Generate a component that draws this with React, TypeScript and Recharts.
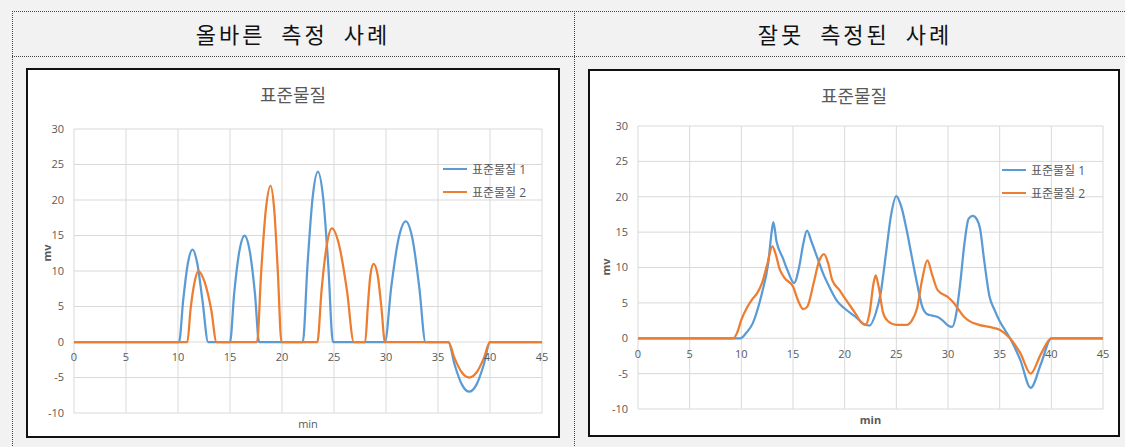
import React from 'react';
import { LineChart, Line, XAxis, YAxis, CartesianGrid, Legend } from 'recharts';

const X_TICKS = [0, 5, 10, 15, 20, 25, 30, 35, 40, 45];
const Y_TICKS = [-10, -5, 0, 5, 10, 15, 20, 25, 30];
const SERIES_NAMES = ['표준물질 1', '표준물질 2'];
const SERIES_COLORS = ['#5B9BD5', '#ED7D31'];
const HEADERS = ['올바른 측정 사례', '잘못 측정된 사례'];
const CHART_TITLE = '표준물질';
const X_TITLE = 'min';
const Y_TITLE = 'mv';

const good1: [number, number][] = [
  [0, 0], [10.1, 0], [10.5, 5.9], [10.95, 11.1], [11.4, 13], [11.85, 11.1], [12.35, 5.9], [12.9, 0],
  [15.0, 0], [15.4, 6.8], [15.9, 12.8], [16.4, 15], [16.9, 12.8], [17.4, 6.8], [17.8, 0],
  [22.0, 0], [22.45, 10.8], [22.95, 20.4], [23.45, 24], [23.95, 20.4], [24.45, 10.8], [24.9, 0],
  [29.9, 0], [30.5, 7.7], [31.2, 14.5], [31.9, 17], [32.55, 14.5], [33.2, 7.7], [33.8, 0],
  [36, 0], [36.6, -3.2], [37.3, -6], [38, -7], [38.7, -6], [39.4, -3.2], [40, 0], [45, 0],
];
const good2: [number, number][] = [
  [0, 0], [10.9, 0], [11.2, 4.5], [11.6, 8.5], [11.95, 10], [12.55, 8.5], [13.2, 4.5], [13.7, 0],
  [17.6, 0], [18.0, 9.9], [18.45, 18.7], [18.9, 22], [19.25, 18.7], [19.6, 9.9], [19.95, 0],
  [23.4, 0], [23.8, 7.2], [24.3, 13.6], [24.8, 16], [25.5, 13.6], [26.25, 7.2], [26.9, 0],
  [28.0, 0], [28.25, 5.0], [28.5, 9.4], [28.8, 11], [29.2, 9.4], [29.55, 5.0], [29.9, 0],
  [36, 0], [36.6, -2.3], [37.3, -4.3], [38, -5], [38.7, -4.3], [39.4, -2.3], [40, 0], [45, 0],
];

const bad1: [number, number][] = [
  [0, 0], [9.9, 0], [10.5, 0.8], [11.1, 2.1], [11.6, 4.2], [12, 6.4], [12.6, 10.6], [12.95, 15.2], [13.1, 16.4],
  [13.4, 13.7], [14, 11.4], [14.5, 9.5], [15.1, 7.8], [15.6, 10.1], [16.0, 13.4], [16.35, 15.2], [16.8, 13.6],
  [17.3, 11.6], [17.9, 9.2], [18.5, 7.3], [19.2, 5.4], [20, 4.2], [21, 3.1], [22, 1.9], [22.4, 1.8],
  [23, 3.5], [23.5, 6.5], [24, 12], [24.5, 17.5], [25, 20.1], [25.5, 18.5], [26, 15.3], [26.5, 11.5],
  [27, 7.8], [27.5, 4.5], [28, 3.4], [28.5, 3.2], [29, 3.0], [29.5, 2.5], [30, 1.8], [30.4, 1.6],
  [30.8, 3.5], [31.2, 8], [31.6, 13.5], [32, 16.9], [32.4, 17.3], [32.8, 16.8], [33.1, 15.5], [33.5, 11],
  [34, 6], [34.5, 4], [35, 2.4], [35.5, 1.2], [36, 0], [37, -3.1], [38, -7], [39, -3.6], [40, 0], [45, 0],
];
const bad2: [number, number][] = [
  [0, 0], [9.2, 0], [9.6, 0.8], [10, 2.6], [10.5, 4.2], [11, 5.4], [11.5, 6.3], [12, 7.8], [12.5, 10.4],
  [13, 13], [13.3, 12], [13.7, 9.8], [14.2, 8.5], [15, 7.3], [15.5, 5.3], [16, 4.1], [16.4, 4.5],
  [17, 7.8], [17.5, 10.8], [18, 11.9], [18.4, 10.6], [18.8, 8.2], [19.5, 6.8], [20, 5.7], [21, 3.6],
  [21.7, 2.1], [22, 1.9], [22.4, 3.5], [22.8, 7.8], [23, 8.9], [23.3, 7.2], [23.7, 3.7], [24.2, 2.4],
  [25, 1.9], [26, 1.9], [26.5, 2.5], [27, 4.2], [27.5, 8.3], [28, 11], [28.5, 8.8], [29, 6.8],
  [30, 5.8], [30.5, 5.1], [31, 4.1], [31.5, 3.1], [32, 2.5], [33, 1.9], [34, 1.6], [35, 1.2],
  [36, 0], [37, -2.1], [38, -5], [39, -2.2], [40, 0], [45, 0],
];

const toRows = (pts: [number, number][]) => pts.map(([t, v]) => ({ t, v }));

const FONT = '"Open Sans", "Noto Sans CJK KR", sans-serif';
const TXT = '#595959';
const GRID = '#d9d9d9';

const LegendLines = ({ payload }: any) => (
  <div style={{ fontFamily: FONT, fontSize: 12, color: TXT }}>
    {(payload || []).map((p: any) => (
      <div key={p.value} style={{ display: 'flex', alignItems: 'center', height: 23 }}>
        <span style={{ display: 'inline-block', width: 24, height: 2, background: p.color, marginRight: 5 }} />
        <span>{p.value}</span>
      </div>
    ))}
  </div>
);

type PanelProps = {
  left: number; top: number; width: number; height: number;
  margin: { top: number; right: number; bottom: number; left: number };
  s1: [number, number][]; s2: [number, number][];
  legendPos: { left: number; top: number };
  titleTop: number; xTitleTop: number; yTitleTop: number; yTitleLeft: number;
  bold: boolean; labelGap: number;
};

function Panel(p: PanelProps) {
  const border = 2;
  const cw = p.width - border * 2;
  const ch = p.height - border * 2;
  const xAxisH = 20;
  const plotH = ch - p.margin.top - p.margin.bottom - xAxisH;
  const zeroShift = (plotH * (0 - Y_TICKS[0])) / (Y_TICKS[Y_TICKS.length - 1] - Y_TICKS[0]);
  const plotLeft = p.margin.left + 30;
  const plotW = cw - plotLeft - p.margin.right;

  const XTick = (tp: any) => (
    <text x={tp.x} y={tp.y - zeroShift + p.labelGap} textAnchor="middle" dominantBaseline="central"
      fill={TXT} fontSize={11} fontFamily={FONT}>{tp.payload.value}</text>
  );

  return (
    <div style={{ position: 'absolute', left: p.left, top: p.top, width: p.width, height: p.height,
      boxSizing: 'border-box', border: `${border}px solid #111`, background: '#fff' }}>
      <div style={{ position: 'absolute', left: 0, width: cw, top: p.titleTop, textAlign: 'center',
        fontFamily: FONT, fontSize: 18, color: TXT, lineHeight: '22px' }}>{CHART_TITLE}</div>
      <div style={{ position: 'absolute', left: plotLeft, width: plotW, top: p.xTitleTop, textAlign: 'center',
        fontFamily: FONT, fontSize: 11, color: TXT, fontWeight: p.bold ? 700 : 400, lineHeight: '14px' }}>{X_TITLE}</div>
      <div style={{ position: 'absolute', left: p.yTitleLeft, top: p.yTitleTop, transform: 'rotate(-90deg)',
        transformOrigin: 'center', fontFamily: FONT, fontSize: 11, color: TXT, fontWeight: 700, lineHeight: '14px' }}>{Y_TITLE}</div>
      <div style={{ position: 'absolute', left: 0, top: 0 }}>
        <LineChart width={cw} height={ch} margin={p.margin}>
          <CartesianGrid stroke={GRID} strokeWidth={1} />
          <XAxis dataKey="t" type="number" domain={[0, 45]} ticks={X_TICKS} height={xAxisH}
            axisLine={false} tickLine={false} tickSize={0} tickMargin={0} tick={<XTick />} interval={0} />
          <YAxis type="number" domain={[-10, 30]} ticks={Y_TICKS} width={30} axisLine={false} tickLine={false}
            tickSize={0} tickMargin={10} tick={{ fill: TXT, fontSize: 11, fontFamily: FONT }} interval={0} />
          <Legend layout="vertical" align="center" verticalAlign="middle" content={<LegendLines />}
            wrapperStyle={{ left: p.legendPos.left, top: p.legendPos.top, width: 'auto' }} />
          <Line data={toRows(p.s1)} dataKey="v" name={SERIES_NAMES[0]} type="monotone" stroke={SERIES_COLORS[0]}
            strokeWidth={2.25} dot={false} activeDot={false} isAnimationActive={false} />
          <Line data={toRows(p.s2)} dataKey="v" name={SERIES_NAMES[1]} type="monotone" stroke={SERIES_COLORS[1]}
            strokeWidth={2.25} dot={false} activeDot={false} isAnimationActive={false} />
        </LineChart>
      </div>
    </div>
  );
}

const headerStyle: React.CSSProperties = {
  position: 'absolute', top: 18, height: 30, lineHeight: '30px', textAlign: 'center',
  fontFamily: '"Noto Sans CJK KR", sans-serif', fontSize: 22, color: '#111', letterSpacing: 3, wordSpacing: 8,
};

export default function App() {
  return (
    <div style={{ position: 'absolute', left: 0, top: 0, width: 1125, height: 447, background: '#f2f2f2', overflow: 'hidden' }}>
      <div style={{ position: 'absolute', left: 12, top: 11, width: 1125, height: 0, borderTop: '1px dotted #444' }} />
      <div style={{ position: 'absolute', left: 12, top: 56, width: 1125, height: 0, borderTop: '1px dotted #444' }} />
      <div style={{ position: 'absolute', left: 12, top: 11, width: 0, height: 447, borderLeft: '1px dotted #444' }} />
      <div style={{ position: 'absolute', left: 574, top: 11, width: 0, height: 447, borderLeft: '1px dotted #444' }} />
      <div style={{ ...headerStyle, left: 12, width: 562 }}>{HEADERS[0]}</div>
      <div style={{ ...headerStyle, left: 574, width: 562 }}>{HEADERS[1]}</div>
      <Panel left={26} top={68} width={534} height={370}
        margin={{ top: 59, right: 16, bottom: 3, left: 16 }}
        s1={good1} s2={good2}
        legendPos={{ left: 415, top: 87 }}
        titleTop={14} xTitleTop={347} yTitleTop={176} yTitleLeft={10}
        bold={false} labelGap={14} />
      <Panel left={588} top={69} width={532} height={368}
        margin={{ top: 55, right: 15, bottom: 6, left: 18 }}
        s1={bad1} s2={bad2}
        legendPos={{ left: 412, top: 87 }}
        titleTop={14} xTitleTop={342} yTitleTop={189} yTitleLeft={7}
        bold={true} labelGap={15} />
    </div>
  );
}
